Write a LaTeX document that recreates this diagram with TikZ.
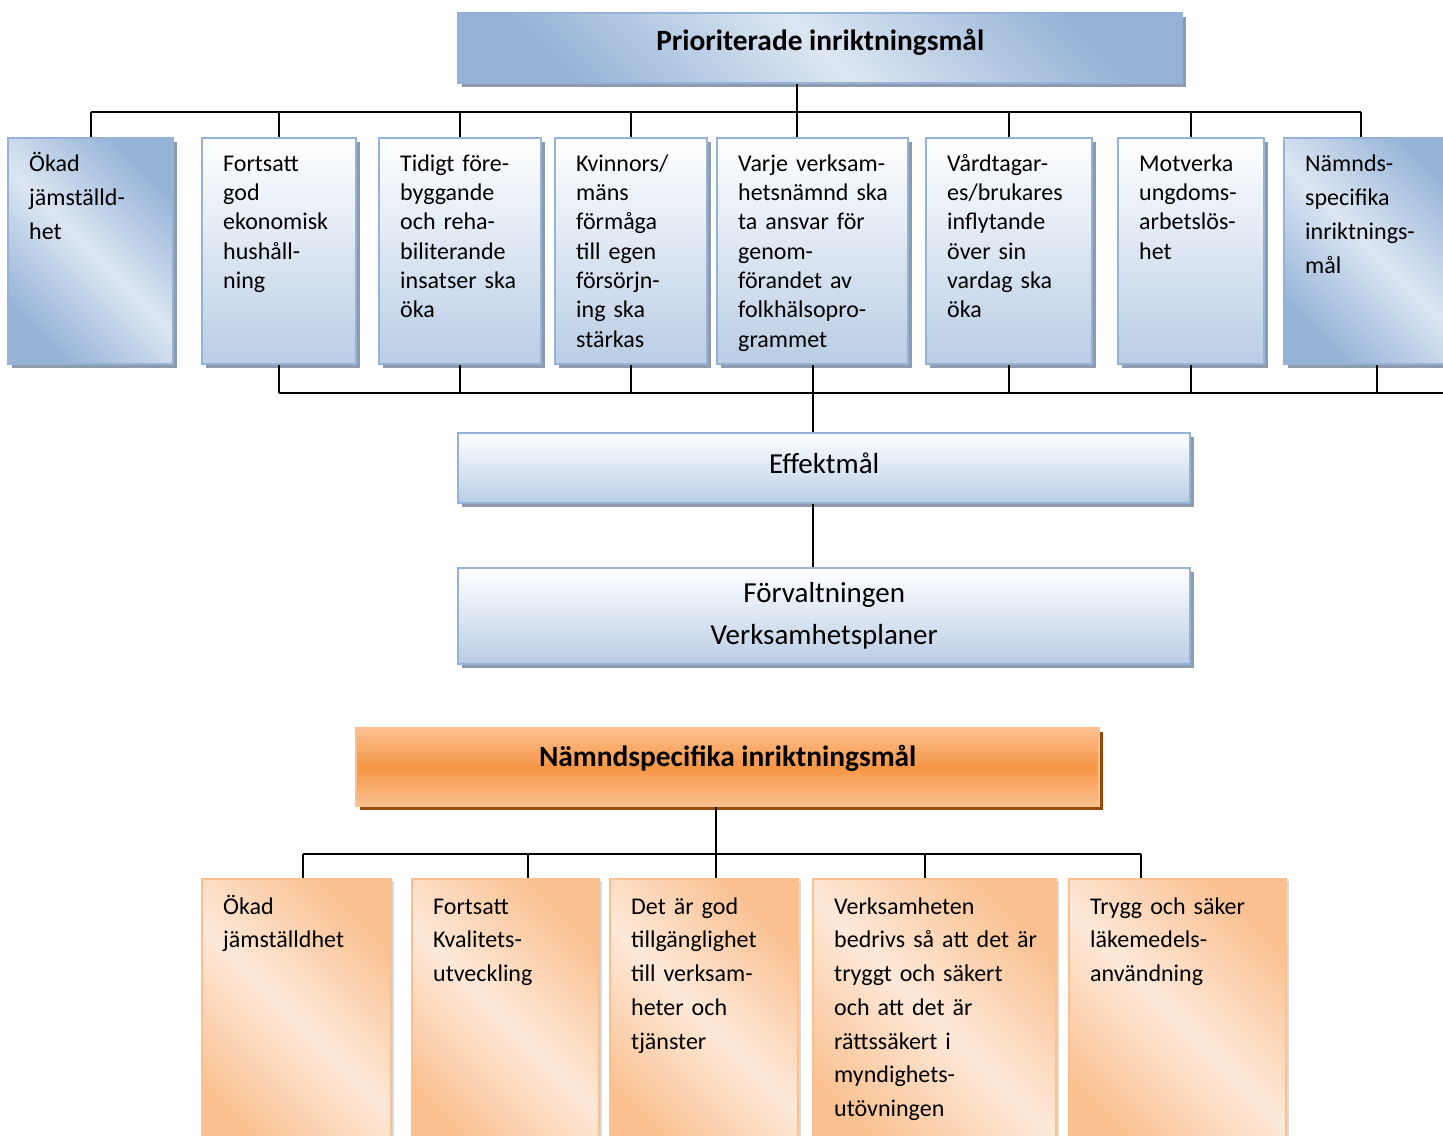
\documentclass[tikz,border=0pt]{standalone}
\usepackage{fontspec}
\setmainfont{Carlito}
\usetikzlibrary{shadows}
\definecolor{prioblue}{HTML}{95B3D7}
\definecolor{priolight}{HTML}{DCE6F2}
\definecolor{priomid}{HTML}{B9CDE5}
\definecolor{prioshadow}{HTML}{8E9BAD}
\definecolor{nmorange}{HTML}{F79646}
\definecolor{nmlight}{HTML}{FAC090}
\definecolor{nmpale}{HTML}{FDE9D9}
\definecolor{nmshadow}{HTML}{984807}

\begin{document}
\begin{tikzpicture}[
        x=0.5pt, y=-0.5pt,
        conn/.style={draw=black, line width=0.8pt},
        bluebase/.style={rectangle, draw=prioblue, line width=1.2pt, anchor=north west, inner sep=0pt, drop shadow={shadow xshift=2pt, shadow yshift=-2pt, fill=prioshadow, opacity=1}},
        priohead/.style={bluebase, top color=prioblue, bottom color=prioblue, middle color=priolight, shading angle=-45, minimum width=362pt, minimum height=35pt, text depth=8pt, font=\fontsize{14.7}{17}\selectfont\bfseries},
        goal/.style={bluebase, top color=white, bottom color=priomid, align=left, inner xsep=10.5pt, text height=16.5pt, text depth=96.5pt, font=\fontsize{12}{14.65}\selectfont},
        goalalt/.style={goal, top color=prioblue, bottom color=prioblue, middle color=priolight, shading angle=-45, font=\fontsize{12}{17}\selectfont},
        level/.style={bluebase, top color=white, bottom color=priomid, minimum width=366pt, align=center, font=\fontsize{14.5}{21}\selectfont},
        nmhead/.style={rectangle, draw=nmlight, line width=1.2pt, anchor=north west, inner sep=0pt, top color=nmlight, bottom color=nmlight, middle color=nmorange, minimum width=371.5pt, minimum height=39pt, text depth=11pt, font=\fontsize{14.7}{17}\selectfont\bfseries, drop shadow={shadow xshift=2pt, shadow yshift=-2pt, fill=nmshadow, opacity=1}},
        nmgoal/.style={rectangle, draw=nmlight, line width=1.2pt, anchor=north west, inner sep=0pt, inner xsep=10.5pt, align=left, top color=nmlight, bottom color=nmlight, middle color=nmpale, shading angle=-45, text height=17.5pt, text depth=122.5pt, font=\fontsize{12}{16.85}\selectfont, drop shadow={shadow xshift=1.5pt, shadow yshift=-1pt, fill=black!15, opacity=1}}
    ]
    \useasboundingbox (0,0) rectangle (1443,1135);

    \node[priohead] (prio) at (457,12) {Prioriterade inriktningsmål};

    \node[goalalt, text width=61.5pt] (b1) at (7,137) {Ökad\\jämställd-\\het};
    \node[goal, text width=56pt] (b2) at (201,137) {Fortsatt\\god\\ekonomisk\\hushåll-\\ning};
    \node[goal, text width=60pt] (b3) at (378,137) {Tidigt före-\\byggande\\och reha-\\biliterande\\insatser~ska\\öka};
    \node[goal, text width=55pt] (b4) at (554,137) {Kvinnors/\\mäns\\förmåga\\till~egen\\försörjn-\\ing~ska\\stärkas};
    \node[goal, text width=74.5pt] (b5) at (716,137) {Varje~verksam-\\hetsnämnd~ska\\ta~ansvar~för\\genom-\\förandet~av\\folkhälsopro-\\grammet};
    \node[goal, text width=62pt] (b6) at (925,137) {Vårdtagar-\\es/brukares\\inflytande\\över~sin\\vardag~ska\\öka};
    \node[goal, text width=52pt] (b7) at (1117,137) {Motverka\\ungdoms-\\arbetslös-\\het};
    \node[goalalt, text width=69pt] (b8) at (1283,137) {Nämnds-\\specifika\\inriktnings-\\mål};

    \node[level, minimum height=35pt, text depth=5pt] (eff) at (457,432) {Effektmål};
    \node[level, minimum height=48pt] (forv) at (457,567) {Förvaltningen\\Verksamhetsplaner};

    \node[nmhead] (nm) at (355,727) {Nämndspecifika inriktningsmål};

    \node[nmgoal, text width=73.5pt] (o1) at (201,878) {Ökad\\jämställdhet};
    \node[nmgoal, text width=72.5pt] (o2) at (411,878) {Fortsatt\\Kvalitets-\\utveckling};
    \node[nmgoal, text width=73pt] (o3) at (609,878) {Det~är~god\\tillgänglighet\\till~verksam-\\heter~och\\tjänster};
    \node[nmgoal, text width=100.5pt] (o4) at (812,878) {Verksamheten\\bedrivs~så~att~det~är\\tryggt~och~säkert\\och~att~det~är\\rättssäkert~i\\myndighets-\\utövningen};
    \node[nmgoal, text width=87.5pt] (o5) at (1068,878) {Trygg~och~säker\\läkemedels-\\användning};

    \coordinate (hubtop) at (797,112);
    \coordinate (hubmid) at (1443,393);
    \coordinate (t8) at (1361,112);
    \coordinate (u8) at (1377,393);
    \coordinate (hubnm) at (716,854);
    \coordinate (n1) at (303,854);
    \coordinate (n2) at (528,854);
    \coordinate (n4) at (925,854);
    \coordinate (n5) at (1141,854);

    \draw[conn] (hubtop |- prio.south) -- (hubtop |- b5.north);
    \draw[conn] (b1.north |- hubtop) -- (t8);
    \draw[conn] (b1.north) -- (b1.north |- hubtop);
    \draw[conn] (b2.north) -- (b2.north |- hubtop);
    \draw[conn] (b3.north) -- (b3.north |- hubtop);
    \draw[conn] (b4.north) -- (b4.north |- hubtop);
    \draw[conn] (b6.north) -- (b6.north |- hubtop);
    \draw[conn] (b7.north) -- (b7.north |- hubtop);
    \draw[conn] (t8 |- b8.north) -- (t8);

    \draw[conn] (b2.south |- hubmid) -- (hubmid);
    \draw[conn] (b2.south) -- (b2.south |- hubmid);
    \draw[conn] (b3.south) -- (b3.south |- hubmid);
    \draw[conn] (b4.south) -- (b4.south |- hubmid);
    \draw[conn] (b5.south) -- (b5.south |- eff.north);
    \draw[conn] (b6.south) -- (b6.south |- hubmid);
    \draw[conn] (b7.south) -- (b7.south |- hubmid);
    \draw[conn] (u8 |- b8.south) -- (u8);
    \draw[conn] (b5.south |- eff.south) -- (b5.south |- forv.north);

    \draw[conn] (hubnm |- nm.south) -- (hubnm |- o3.north);
    \draw[conn] (n1) -- (n5);
    \draw[conn] (n1) -- (n1 |- o1.north);
    \draw[conn] (n2) -- (n2 |- o2.north);
    \draw[conn] (n4) -- (n4 |- o4.north);
    \draw[conn] (n5) -- (n5 |- o5.north);
\end{tikzpicture}
\end{document}
